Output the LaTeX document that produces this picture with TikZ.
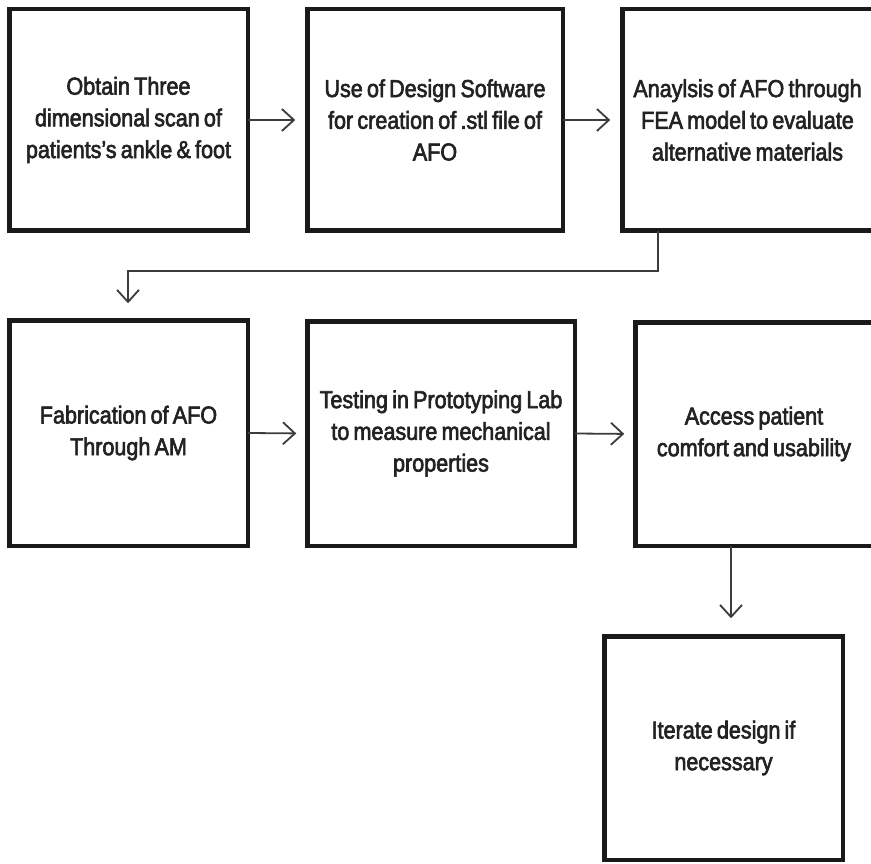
\documentclass[tikz,border=0pt]{standalone}
\usepackage{fontspec}
\setmainfont{Liberation Sans}[FakeStretch=0.88,FakeBold=2.5,WordSpace=0.7]
\usetikzlibrary{arrows.meta}
\definecolor{ink}{HTML}{1A1A1A}
\definecolor{txt}{HTML}{222222}
\tikzset{
  stepbox/.style={draw=ink,line width=4.5pt,fill=white,inner sep=0pt,outer sep=0pt,
    align=center,text=txt,font=\fontsize{24.5}{31.7}\selectfont},
  link/.style={draw=ink!85,line width=1.8pt,-{Straight Barb[length=12pt,width=22pt,line width=1.8pt]}}
}
\begin{document}
\begin{tikzpicture}[x=1pt,y=-1pt]
\useasboundingbox (0,0) rectangle (871,864);
\clip (0,0) rectangle (871,864);
\fill[white] (0,0) rectangle (871,864);
\node[stepbox,minimum width=238.5pt,minimum height=221.5pt] (b1) at (128.5,120) {Obtain Three\\dimensional scan of\\patients's ankle \& foot};
\node[stepbox,minimum width=255.5pt,minimum height=221.5pt] (b2) at (435,120) {Use of Design Software\\for creation of .stl file of\\AFO};
\node[stepbox,minimum width=250.5pt,minimum height=221.5pt] (b3) at (747.5,120) {Anaylsis of AFO through\\FEA model to evaluate\\alternative materials};
\node[stepbox,minimum width=238.5pt,minimum height=225.5pt] (b4) at (128.5,433) {Fabrication of AFO\\Through AM};
\node[stepbox,minimum width=267.5pt,minimum height=224.5pt] (b5) at (441,433.5) {Testing in Prototyping Lab\\to measure mechanical\\properties};
\node[stepbox,minimum width=237.5pt,minimum height=223.5pt] (b6) at (754,434) {Access patient\\comfort and usability};
\node[stepbox,minimum width=238.5pt,minimum height=223.5pt] (b7) at (723.5,748) {Iterate design if\\necessary};
\coordinate (k1) at (658,271);
\coordinate (k2) at (128,271);
\coordinate (k3) at (731,0);
\draw[link,shorten >=12pt] (b1.east) -- (b2.west);
\draw[link,shorten >=12pt] (b2.east) -- (b3.west);
\draw[link,shorten >=17pt] (b3.south -| k1) -- (k1) -- (k2) -- (b4.north -| k2);
\draw[link,shorten >=11pt] (b4.east) -- (b5.west);
\draw[link,shorten >=11pt] (b5.east) -- (b6.west);
\draw[link,shorten >=18pt] (b6.south -| k3) -- (b7.north -| k3);
\end{tikzpicture}
\end{document}
